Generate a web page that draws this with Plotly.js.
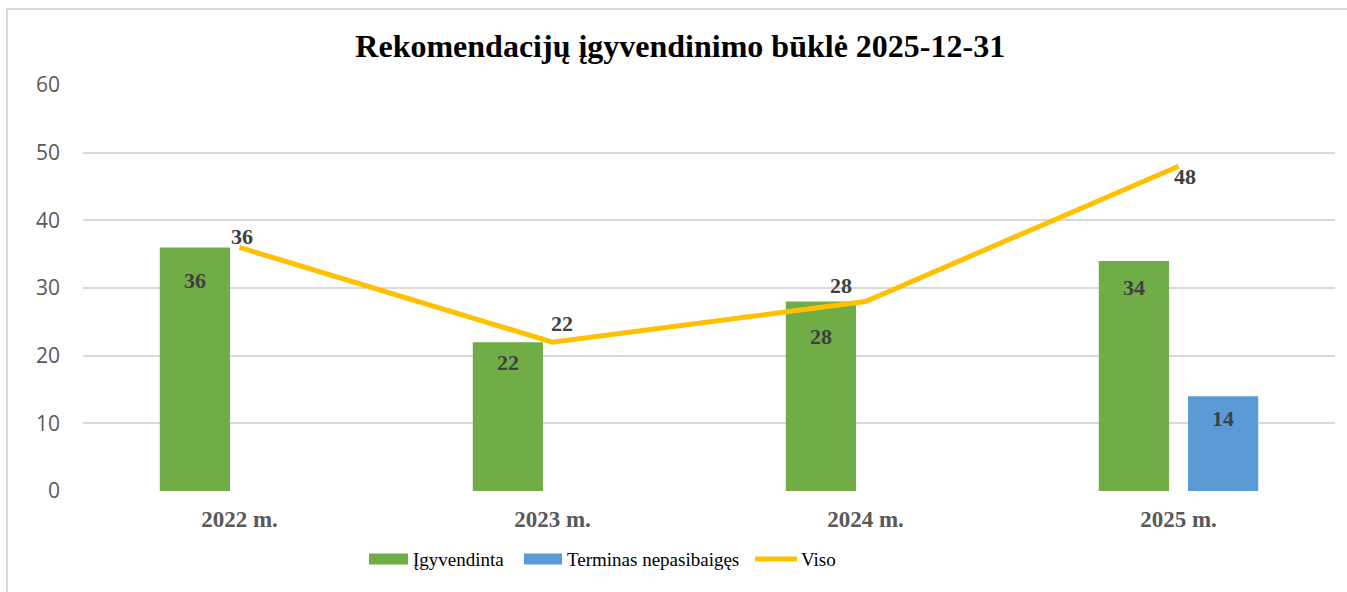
<!DOCTYPE html>
<html>
<head>
<meta charset="utf-8">
<script src="https://cdn.plot.ly/plotly-3.0.1.min.js"></script>
<style>
  html, body { margin: 0; padding: 0; background: #ffffff; }
  #chart { width: 1347px; height: 592px; }
  #frame { position: absolute; left: 6px; top: 8px; width: 1400px; height: 700px;
           border-left: 2px solid #d9d9d9; border-top: 2px solid #d9d9d9; pointer-events: none; }
</style>
</head>
<body>
<div id="chart"></div>
<div id="frame"></div>
<script>
const titleText = "Rekomendacijų įgyvendinimo būklė 2025-12-31";
const categories = ["2022 m.", "2023 m.", "2024 m.", "2025 m."];
const seriesNames = ["Įgyvendinta", "Terminas nepasibaigęs", "Viso"];
const implemented = [36, 22, 28, 34];
const notExpired = [null, null, null, 14];
const total = [36, 22, 28, 48];
const yTicks = [0, 10, 20, 30, 40, 50, 60];

// label placement (pixels), layout only
const implementedLabelDrop = [33, 20, 35, 27];
const notExpiredLabelDrop = [22, 22, 22, 22];
const totalLabelShift = [[2, 11], [9, 19], [-25, 16], [6, -10]];

const colors = { green: "#70AD47", blue: "#5B9BD5", yellow: "#FFC000" };
const serif = "Liberation Serif, Times New Roman, serif";
const labelFont = { family: serif, size: 22, color: "#404040", weight: "bold" };

// plot area geometry in pixels
const M = { l: 83, r: 12, t: 85, b: 101 };
const W = 1347, H = 592;
const pw = W - M.l - M.r, ph = H - M.t - M.b;
const px = x => (x - M.l) / pw;
const py = y => (H - M.b - y) / ph;

const traces = [
  { type: "bar", x: categories, y: implemented, name: seriesNames[0],
    marker: { color: colors.green }, showlegend: false, hoverinfo: "y" },
  { type: "bar", x: categories, y: notExpired, name: seriesNames[1],
    marker: { color: colors.blue }, showlegend: false, hoverinfo: "y" },
  { type: "scatter", mode: "lines", x: categories, y: total, name: seriesNames[2],
    line: { color: colors.yellow, width: 5 }, showlegend: false, cliponaxis: false }
];

const annotations = [];
implemented.forEach((v, i) => {
  if (v !== null) annotations.push({ x: categories[i], y: v, xref: "x", yref: "y",
    text: String(v), showarrow: false, xshift: -45, yshift: -implementedLabelDrop[i], font: labelFont });
});
notExpired.forEach((v, i) => {
  if (v !== null) annotations.push({ x: categories[i], y: v, xref: "x", yref: "y",
    text: String(v), showarrow: false, xshift: 44, yshift: -notExpiredLabelDrop[i], font: labelFont });
});
total.forEach((v, i) => {
  annotations.push({ x: categories[i], y: v, xref: "x", yref: "y",
    text: String(v), showarrow: false, xshift: totalLabelShift[i][0], yshift: totalLabelShift[i][1], font: labelFont });
});

// custom legend (wide swatches like the original)
const legendY = 559;
const legendFont = { family: serif, size: 19, color: "#000000" };
const legendItems = [
  { name: seriesNames[0], kind: "rect", color: colors.green, x0: 369, x1: 408, tx: 411 },
  { name: seriesNames[1], kind: "rect", color: colors.blue, x0: 524, x1: 562, tx: 565 },
  { name: seriesNames[2], kind: "line", color: colors.yellow, x0: 755, x1: 797, tx: 799 }
];
const shapes = [];
legendItems.forEach(it => {
  if (it.kind === "rect") {
    shapes.push({ type: "rect", xref: "paper", yref: "paper", x0: px(it.x0), x1: px(it.x1),
      y0: py(legendY + 5.5), y1: py(legendY - 5.5), fillcolor: it.color, line: { width: 0 } });
  } else {
    shapes.push({ type: "line", xref: "paper", yref: "paper", x0: px(it.x0), x1: px(it.x1),
      y0: py(legendY), y1: py(legendY), line: { color: it.color, width: 5 } });
  }
  annotations.push({ xref: "paper", yref: "paper", x: px(it.tx), y: py(legendY), xanchor: "left",
    yanchor: "middle", text: it.name, showarrow: false, font: legendFont });
});

const layout = {
  width: W, height: H,
  margin: M,
  paper_bgcolor: "rgba(0,0,0,0)", plot_bgcolor: "#ffffff",
  title: { text: "<b>" + titleText + "</b>", x: 0.505, xref: "container", y: 0.922, yref: "container",
           xanchor: "center", yanchor: "middle",
           font: { family: serif, size: 32, color: "#000000" } },
  barmode: "group", bargap: 0.43, bargroupgap: 0.213,
  xaxis: { type: "category", range: [-0.5, 3.5], showgrid: false, zeroline: false,
           showline: false, ticks: "", ticklabelstandoff: 12,
           tickfont: { family: serif, size: 23, color: "#595959", weight: "bold" } },
  yaxis: { range: [0, 60], tickvals: yTicks, showgrid: true, gridcolor: "#d9d9d9", gridwidth: 2,
           zeroline: false, showline: false, ticks: "", ticklabelstandoff: 22,
           tickfont: { family: "Open Sans, sans-serif", size: 21, color: "#595959" } },
  showlegend: false,
  shapes: shapes,
  annotations: annotations
};

Plotly.newPlot("chart", traces, layout, { displayModeBar: false, staticPlot: true });
</script>
</body>
</html>
